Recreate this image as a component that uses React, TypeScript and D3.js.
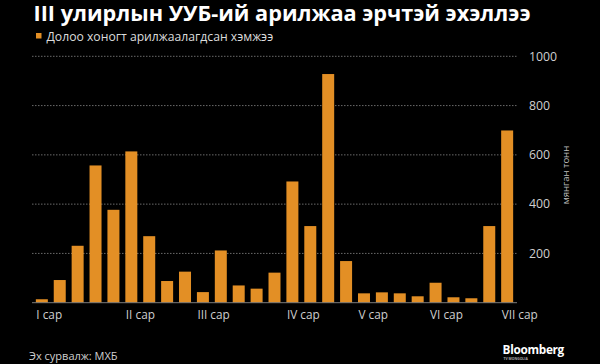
import React from "react";
import * as d3 from "d3";

const title = "III улирлын УУБ-ий арилжаа эрчтэй эхэллээ";
const legendLabel = "Долоо хоногт арилжаалагдсан хэмжээ";
const unitLabel = "мянган тонн";
const sourceLabel = "Эх сурвалж: МХБ";

// weekly traded volume, thousand tonnes
const values = [14, 92, 231, 557, 377, 614, 270, 88, 126, 43, 212, 70, 57, 122, 492, 311, 928, 169, 38, 42, 38, 26, 81, 22, 18, 311, 699];
const monthLabels = ["I сар", "II сар", "III сар", "IV сар", "V сар", "VI сар", "VII сар"];
const monthStartWeek = [0, 5, 9, 14, 18, 22, 26];
const yTicks = [200, 400, 600, 800, 1000];

const W = 600;
const H = 364;
const plot = { left: 32, right: 517, top: 56.3, bottom: 302.7 };
const barColor = "#E38F25";
const font = "'Open Sans', 'Noto Sans', sans-serif";

export default function App() {
  const x = d3
    .scaleBand<number>()
    .domain(values.map((_, i) => i))
    .range([plot.left, plot.right])
    .paddingInner(0.33)
    .paddingOuter(0.215);
  const y = d3.scaleLinear().domain([0, 1000]).range([plot.bottom, plot.top]);

  return (
    <div style={{ position: "absolute", left: 0, top: 0 }}>
      <svg width={W} height={H} style={{ display: "block", background: "#000" }} fontFamily={font}>
        <rect x={0} y={0} width={W} height={H} fill="#000" />
        <text
          x={33.5}
          y={20.5}
          fill="#fff"
          fontSize={20.5}
          fontWeight={700}
          textLength={497}
          lengthAdjust="spacingAndGlyphs"
        >
          {title}
        </text>
        <rect x={36} y={33} width={5.5} height={5.5} fill={barColor} />
        <text x={46.5} y={41} fill="#dcdcdc" fontSize={12.2}>
          {legendLabel}
        </text>

        {yTicks.map((t) => (
          <g key={t}>
            <line
              x1={plot.left}
              x2={plot.right}
              y1={y(t)}
              y2={y(t)}
              stroke="#6a6a6a"
              strokeWidth={1}
              strokeDasharray="1.5,1.5"
            />
            <text x={529} y={y(t) + 4.3} fill="#cfcfcf" fontSize={12.3}>
              {t}
            </text>
          </g>
        ))}

        {values.map((v, i) => (
          <rect
            key={i}
            x={x(i)}
            y={y(v)}
            width={x.bandwidth()}
            height={y(0) - y(v)}
            fill={barColor}
          />
        ))}

        <line x1={plot.left} x2={plot.right} y1={y(0)} y2={y(0)} stroke="#7a7a7a" strokeWidth={1} />

        {monthLabels.map((m, i) => (
          <text key={m} x={(x(monthStartWeek[i]) as number) + 0.5} y={318.5} fill="#cfcfcf" fontSize={11.8}>
            {m}
          </text>
        ))}

        <text
          transform={`translate(569, 175) rotate(-90)`}
          textAnchor="middle"
          fill="#bdbdbd"
          fontSize={9.5}
        >
          {unitLabel}
        </text>

        <text x={29} y={360} fill="#cfcfcf" fontSize={11}>
          {sourceLabel}
        </text>
        <text x={502.5} y={353.5} fill="#fff" fontSize={11.8} fontWeight={700} letterSpacing={-0.3}>
          Bloomberg
        </text>
        <text x={503.5} y={360} fill="#aaa" fontSize={3.4} fontWeight={700}>
          TV MONGOLIA
        </text>
      </svg>
    </div>
  );
}
